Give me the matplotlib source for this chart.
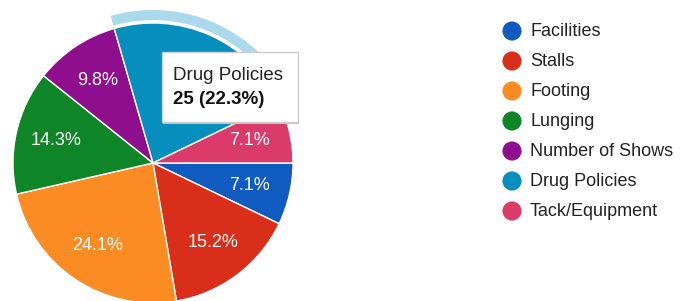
import matplotlib.pyplot as plt
from matplotlib.patches import Wedge, Rectangle

labels = ['Facilities', 'Stalls', 'Footing', 'Lunging',
          'Number of Shows', 'Drug Policies', 'Tack/Equipment']
counts = [8, 17, 27, 16, 11, 25, 8]
colors = ['#0f5bbf', '#d92e1a', '#fb8c23', '#0e8526',
          '#8e0e8d', '#068fbd', '#db3b6b']
hover = 'Drug Policies'

W, H = 682, 301
cx, cy, R = 153, 163, 140

plt.rcParams['font.family'] = ['Liberation Sans', 'DejaVu Sans']

fig = plt.figure(figsize=(W / 100, H / 100), dpi=100)
ax = fig.add_axes([0, 0, 1, 1])

wedges, texts, autotexts = ax.pie(
    counts, colors=colors, startangle=0, counterclock=False,
    center=(cx, H - cy), radius=R, autopct='%.1f%%', pctdistance=0.71,
    wedgeprops=dict(edgecolor='white', linewidth=1),
    textprops=dict(color='white', fontsize=13))

# highlight ring round the hovered slice; its own label sits under the tooltip
i = labels.index(hover)
w = wedges[i]
autotexts[i].set_visible(False)
ax.add_patch(Wedge(w.center, R + 13, w.theta1, w.theta2, width=10,
                   facecolor='#a9d9ea', edgecolor='none'))

# tooltip
total = sum(counts)
tx, ty, tw, th = 162, 52, 136, 70
ax.add_patch(Rectangle((tx + 1, H - ty - th - 2), tw, th,
                       facecolor='#c4c4c4', edgecolor='none', zorder=5))
ax.add_patch(Rectangle((tx, H - ty - th), tw, th, facecolor='white',
                       edgecolor='#cccccc', linewidth=1, zorder=6))
ax.text(tx + 11, H - 75, hover, fontsize=13.5, color='#222222',
        va='center', zorder=7)
ax.text(tx + 11, H - 99, '%d (%.1f%%)' % (counts[i], counts[i] / total * 100),
        fontsize=13.5, color='#111111', fontweight='bold', va='center', zorder=7)

# legend
for k, (lab, col) in enumerate(zip(labels, colors)):
    y = H - (31 + 30 * k)
    ax.scatter([512], [y], s=190, color=col, edgecolors='none')
    ax.text(530, y, lab, fontsize=13, color='#222222', va='center')

ax.set_xlim(0, W)
ax.set_ylim(0, H)
ax.set_aspect('auto')
ax.axis('off')

fig.savefig('out.png', dpi=100)
